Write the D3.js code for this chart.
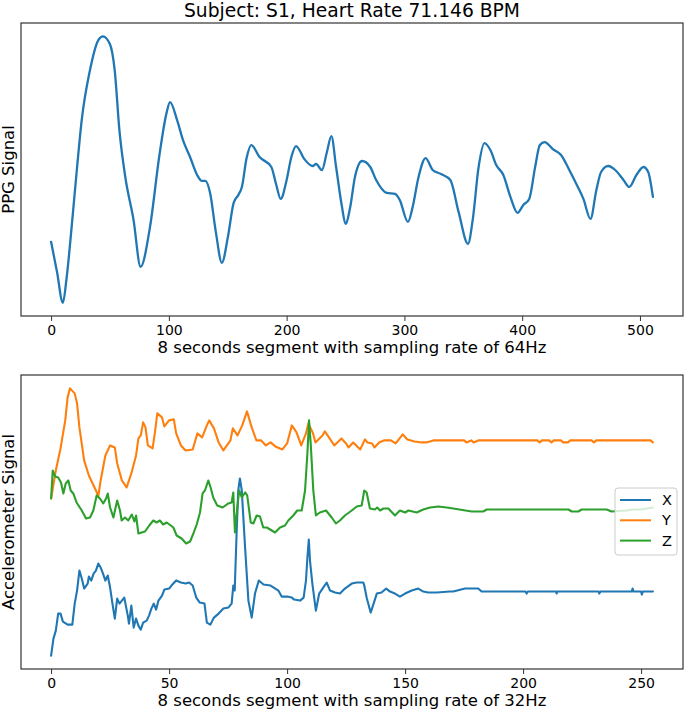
<!DOCTYPE html>
<html>
<head>
<meta charset="utf-8">
<script src="https://cdn.jsdelivr.net/npm/d3@7"></script>
<style>
  html, body { margin: 0; padding: 0; background: #fff; }
  svg { display: block; font-family: "DejaVu Sans", sans-serif; }
</style>
</head>
<body>
<svg id="chart" width="685" height="712"></svg>
<script>
// ---------------- data ----------------
const titleText = "Subject: S1, Heart Rate 71.146 BPM";
const ppgLabel = "PPG Signal";
const accLabel = "Accelerometer Signal";
const ppgXLabel = "8 seconds segment with sampling rate of 64Hz";
const accXLabel = "8 seconds segment with sampling rate of 32Hz";
const ppgTicks = [0, 100, 200, 300, 400, 500];
const accTicks = [0, 50, 100, 150, 200, 250];
const seriesNames = ["X", "Y", "Z"];
const seriesColors = ["#1f77b4", "#ff7f0e", "#2ca02c"];

// PPG (64 Hz, 512 samples): [sample index, value] read at key samples
const ppg = [[0,61],[5,31],[10,0],[13,23],[18,83],[22,135],[26,183],[33,233],[40,263],[44,267],[50,259],[54,233],[58,173],[63,126],[70,83],[76,36],[84,76],[92,148],[98,190],[101,201],[107,183],[112,163],[118,146],[124,128],[128,122],[131,122],[135,110],[140,70],[145,40],[150,65],[155,100],[159,108],[162,116],[166,145],[170,158],[177,146],[187,136],[191,119],[195,104],[200,123],[204,146],[208,157],[215,144],[222,137],[225,139],[230,133],[234,150],[238,167],[242,136],[247,96],[250,79],[254,96],[258,126],[264,142],[271,136],[276,123],[285,110],[292,109],[296,103],[303,81],[307,96],[312,126],[318,145],[324,133],[331,129],[339,123],[346,91],[354,59],[358,83],[363,136],[368,160],[373,153],[378,138],[384,128],[390,106],[396,90],[401,98],[406,104],[411,136],[415,158],[419,161],[426,154],[433,148],[440,133],[446,119],[452,104],[458,84],[463,113],[467,131],[473,137],[479,133],[486,123],[491,116],[497,128],[503,136],[507,131],[511,106]];

// Accelerometer (32 Hz, 256 samples): [sample index, value] read at key samples
const accX = [[0,0],[1,17],[2,25],[3,42],[4,42],[5,34],[7,31],[9,31],[10,52],[11,65],[12,85],[13,77],[14,67],[15.5,72],[16,79],[17,75],[18,82],[19,85],[20,92],[21,88],[22,82],[23,75],[24,80],[25,68],[26,52],[27,37],[28,57],[29,52],[30,55],[31,58],[32.5,40],[33,32],[34,50],[35,28],[36,37],[37,30],[38,26],[39,33],[40.5,35],[41.5,40],[42.5,47],[43.5,52],[44.5,46],[45.5,55],[47,60],[48,66],[50,67],[51,70],[53,75],[55,73],[57,72],[58.5,73],[60,70],[61.5,58],[63,53],[65,52],[66,33],[67.5,31],[69,38],[71,42],[73,47],[75.1,48],[76.5,52],[77.2,70],[77.8,65],[78.6,122],[79.3,165],[80,177],[80.8,165],[82.2,108],[83.6,55],[85,38],[86.4,62],[88,75],[90,71],[93,70],[95,67],[96.3,65],[97.7,59],[100,59],[102,58],[103,56],[105.5,55],[107,58],[108,75],[108.6,98],[109.2,116],[109.7,95],[110.7,72],[112.2,45],[113.6,62],[115.3,68],[116.8,73],[118.2,65],[120.3,63],[122.4,62],[124.5,67],[127.4,72],[129.5,73],[132.3,73],[132.7,70],[133.7,58],[135.4,43],[136.8,53],[138,62],[140,63],[142,67],[143.6,64],[145.7,62],[147.8,59],[150,62],[152.8,65],[155.6,67],[157.7,64],[159.8,63],[163.4,63],[169,64],[170.4,64],[175.4,67],[181,67],[182.4,64],[201,64],[201.5,62],[202,64],[214,64],[214.2,62],[214.5,64],[232,64],[232.3,62],[232.7,64],[246,64],[246.4,67],[246.8,64],[250,64],[250.3,61],[250.7,64],[255,64]];

const accY = [[0,157],[2,185],[4,207],[6,235],[7,258],[8,267],[10,262],[11,252],[12,228],[14,195],[16,180],[17,175],[19,165],[20,159],[21,175],[23,200],[25,210],[27,208],[28,192],[30,175],[32,168],[34,182],[36,200],[37,217],[38,220],[39,233],[40,228],[41,210],[43,207],[44,223],[45,242],[47,238],[48,229],[50,235],[52,236],[53,222],[55,210],[57,205],[60,206],[62,222],[64,218],[66,230],[67,235],[69,227],[71,213],[73,205],[76,215],[77,227],[79,220],[81,230],[83,244],[85,228],[87,215],[89,215],[91,210],[93,213],[95,209],[98,206],[100,212],[102,230],[104,223],[106,210],[108,222],[109,232],[111,222],[112,213],[115,220],[116,224],[118,217],[120,210],[123,217],[125,212],[126,208],[128,213],[131,206],[133,216],[134,213],[136,212],[137,208],[139,213],[141,215],[144,215],[146,212],[149,221],[151,216],[154,214],[157,213],[159,213],[162,215],[175,215],[176,213],[178,215],[179,213],[181,215],[206,215],[207,213],[208,215],[211,215],[212,213],[213,215],[216,215],[217,213],[219,213],[220,215],[229,215],[230,213],[231,215],[254,215],[255,213]];

const accZ = [[0,157],[0.7,185],[1.7,179],[3,178],[4.2,173],[5.2,162],[6.2,172],[7.3,175],[8.3,165],[9.4,162],[10.8,153],[13,145],[14.8,137],[16.5,138],[17.9,145],[19.3,160],[20.7,157],[22.1,152],[23.3,157],[24,162],[25,148],[26.4,138],[28,155],[29.2,145],[29.9,135],[31.3,138],[32.7,135],[34.2,141],[35.3,134],[36,140],[37,122],[38.4,123],[39.8,124],[41.6,130],[43.3,135],[44.7,133],[46.1,135],[47.5,131],[49,133],[50.7,130],[51.8,128],[53.2,120],[55.3,117],[57.2,112],[58.9,114],[60.3,122],[61.7,131],[63.1,143],[64.2,162],[65.2,165],[66.6,175],[67.6,168],[68.7,158],[70.4,150],[72.7,148],[75.1,152],[76.5,153],[77.2,163],[77.9,123],[78.9,148],[79.7,165],[80.8,158],[82.2,163],[83.1,160],[84.6,133],[85.7,132],[87.1,140],[88.5,139],[89.9,128],[91.4,128],[92.8,126],[94.9,123],[97,128],[99.1,130],[100.5,135],[102.6,140],[104.3,145],[106.2,145],[107.6,165],[108.6,202],[109.3,235],[110,212],[111.1,165],[112.2,140],[113.9,143],[116.5,145],[118.9,138],[120.7,132],[122.4,135],[124.5,140],[127.4,145],[129.5,149],[131.6,150],[132.7,165],[133.7,163],[135.1,147],[137.2,146],[138.2,148],[139.4,145],[140.8,147],[142.9,147],[145.7,140],[147.8,145],[150,143],[151.4,145],[154.9,143],[157.7,146],[160.6,148],[164.1,149],[167.6,148],[170.4,147],[173,146],[178.2,144],[183.1,144],[184.6,146],[219.2,146],[220.6,144],[223.4,144],[224.8,146],[235.4,146],[237.5,144],[243.9,145],[246,146],[250,146],[255,148]];

// ---------------- drawing ----------------
const svg = d3.select("#chart");

const topBox = { x0: 21, x1: 683, y0: 23, y1: 316 };
const botBox = { x0: 21, x1: 683, y0: 375, y1: 669 };

function padded(lo, hi) { const m = (hi - lo) * 0.05; return [lo - m, hi + m]; }

function drawPanel(p, xMax, ticks, xLabel, yLabel, yExt) {
  const x = d3.scaleLinear().domain(padded(0, xMax)).range([p.x0, p.x1]);
  const y = d3.scaleLinear().domain(padded(yExt[0], yExt[1])).range([p.y1, p.y0]);
  const g = svg.append("g");
  const axis = d3.axisBottom(x).tickValues(ticks).tickSize(5).tickPadding(4).tickFormat(d3.format("d"));
  const ax = g.append("g").attr("transform", `translate(0,${p.y1})`).call(axis);
  ax.select(".domain").remove();
  ax.selectAll(".tick line").attr("stroke", "#333").attr("stroke-width", 1);
  ax.selectAll(".tick text").attr("font-size", 14).attr("fill", "#000")
    .attr("font-family", "'DejaVu Sans', sans-serif");
  g.append("text").attr("x", (p.x0 + p.x1) / 2).attr("y", p.y1 + 37)
    .attr("text-anchor", "middle").attr("font-size", 16.5).text(xLabel);
  g.append("text")
    .attr("transform", `translate(${p.x0 - 7},${(p.y0 + p.y1) / 2}) rotate(-90)`)
    .attr("text-anchor", "middle").attr("font-size", 16.5).text(yLabel);
  return { x, y, g };
}

// top panel: PPG
const P1 = drawPanel(topBox, 511, ppgTicks, ppgXLabel, ppgLabel, d3.extent(ppg, d => d[1]));
P1.g.append("path").datum(ppg)
  .attr("fill", "none").attr("stroke", seriesColors[0]).attr("stroke-width", 2.3)
  .attr("stroke-linejoin", "round").attr("stroke-linecap", "round")
  .attr("d", d3.line().x(d => P1.x(d[0])).y(d => P1.y(d[1])).curve(d3.curveMonotoneX));
P1.g.append("rect").attr("x", topBox.x0).attr("y", topBox.y0)
  .attr("width", topBox.x1 - topBox.x0).attr("height", topBox.y1 - topBox.y0)
  .attr("fill", "none").attr("stroke", "#333").attr("stroke-width", 1.2);

// bottom panel: accelerometer
const accSeries = [accX, accY, accZ];
const accExt = d3.extent(accSeries.flat(), d => d[1]);
const P2 = drawPanel(botBox, 255, accTicks, accXLabel, accLabel, accExt);
const accLine = d3.line().x(d => P2.x(d[0])).y(d => P2.y(d[1]));
accSeries.forEach((s, k) => {
  P2.g.append("path").datum(s)
    .attr("fill", "none").attr("stroke", seriesColors[k]).attr("stroke-width", 2.1)
    .attr("stroke-linejoin", "round").attr("stroke-linecap", "round")
    .attr("d", accLine);
});
P2.g.append("rect").attr("x", botBox.x0).attr("y", botBox.y0)
  .attr("width", botBox.x1 - botBox.x0).attr("height", botBox.y1 - botBox.y0)
  .attr("fill", "none").attr("stroke", "#333").attr("stroke-width", 1.2);

// legend
const lg = svg.append("g").attr("transform", "translate(615,488)");
lg.append("rect").attr("width", 62).attr("height", 67).attr("rx", 3)
  .attr("fill", "#fff").attr("fill-opacity", 0.8).attr("stroke", "#ccc").attr("stroke-width", 1);
seriesNames.forEach((n, k) => {
  const yy = 12 + k * 20.3;
  lg.append("line").attr("x1", 5).attr("x2", 36).attr("y1", yy).attr("y2", yy)
    .attr("stroke", seriesColors[k]).attr("stroke-width", 2);
  lg.append("text").attr("x", 47).attr("y", yy + 5).attr("font-size", 14.5).text(n);
});

// title
svg.append("text").attr("x", (topBox.x0 + topBox.x1) / 2).attr("y", 17)
  .attr("text-anchor", "middle").attr("font-size", 18.7).text(titleText);
</script>
</body>
</html>
